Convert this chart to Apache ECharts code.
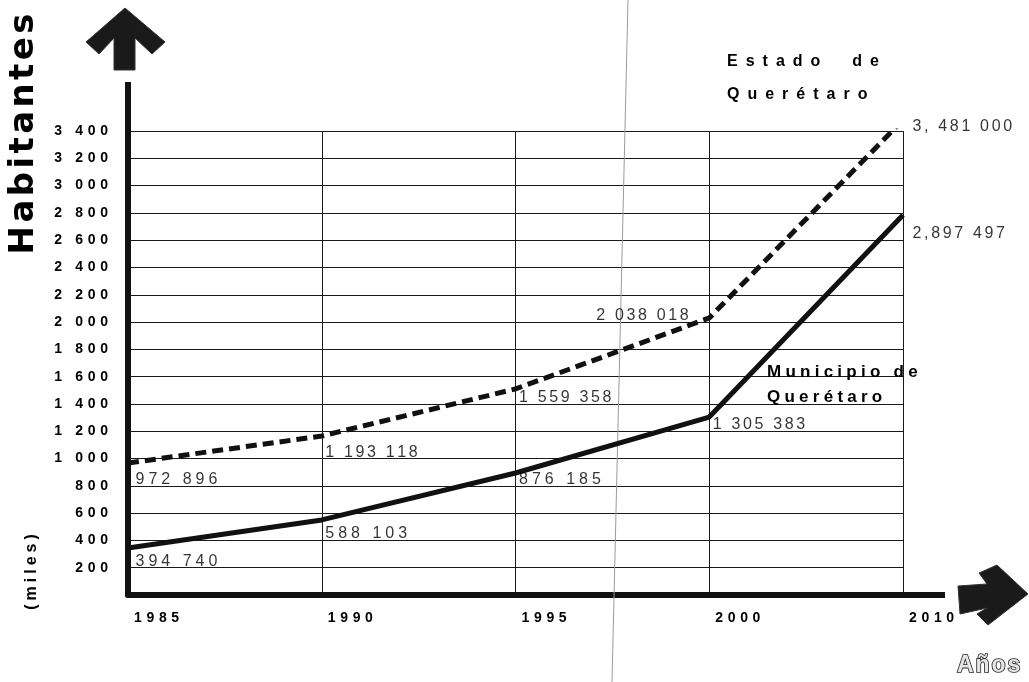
<!DOCTYPE html>
<html><head><meta charset="utf-8">
<script src="https://cdn.jsdelivr.net/npm/echarts@6/dist/echarts.min.js"></script>
<style>html,body{margin:0;padding:0;background:#fff}#c{width:1029px;height:682px}</style>
</head><body><div id="c"></div>
<script>
// ---- data (population, thousands) ----
const years = ['1985', '1990', '1995', '2000', '2010'];
const estado = [967, 1165, 1510, 2030, 3481];
const municipio = [344, 550, 894, 1304, 2785];
const estadoLabels = ['972 896', '1 193 118', '1 559 358', '2 038 018', '3, 481 000'];
const municipioLabels = ['394 740', '588 103', '876 185', '1 305 383', '2,897 497'];
const yMin = 0, yMax = 3400, yStep = 200;

// ---- helpers ----
function sp(s, gap) { return s.split('').join(gap); }
function fmtY(v) {
  if (v === 0) return '';
  const t = Math.floor(v / 1000), r = v % 1000;
  const s = t > 0 ? t + ' ' + String(r).padStart(3, '0') : String(r);
  return sp(s, '\u2004');
}
const FONT = '"Liberation Sans", Arial, sans-serif';
const INK = '#000';

// label placement (style, not data)
const eLab = [
  { position: 'right', distance: 7, offset: [0, 17] },
  { position: 'right', distance: 3, offset: [0, 17] },
  { position: 'right', distance: 3, offset: [0, 9] },
  { position: 'left', distance: 20, offset: [0, -2] },
  { position: 'right', distance: 9, offset: [0, 7] }
];
const mLab = [
  { position: 'right', distance: 7, offset: [0, 14] },
  { position: 'right', distance: 3, offset: [0, 14] },
  { position: 'right', distance: 3, offset: [0, 7] },
  { position: 'right', distance: 3, offset: [0, 8] },
  { position: 'right', distance: 9, offset: [0, 19] }
];
function labelData(vals, texts, place) {
  return vals.map((v, i) => ({
    value: v,
    label: Object.assign({
      show: true,
      formatter: sp(texts[i], texts[i].length > 8 ? '\u2006' : '\u2005'),
      color: INK, fontFamily: FONT, fontSize: 16
    }, place[i])
  }));
}

const chart = echarts.init(document.getElementById('c'), null, { renderer: 'canvas' });
const G = { left: 128, right: 126, top: 131, bottom: 87 };
const axisX = 1029 - G.right, axisY = 682 - G.bottom;

const option = {
  backgroundColor: '#fff',
  animation: false,
  grid: Object.assign({ containLabel: false }, G),
  xAxis: {
    type: 'category',
    data: years,
    boundaryGap: false,
    axisLine: { show: true, lineStyle: { color: '#111', width: 6 } },
    axisTick: { show: false },
    axisLabel: {
      interval: 0, align: 'left', margin: 16, padding: [0, 0, 0, 6],
      color: INK, fontFamily: FONT, fontSize: 14, fontWeight: 'bold',
      formatter: v => sp(v, '\u2004')
    },
    splitLine: { show: true, interval: 0, lineStyle: { color: '#1a1a1a', width: 1 } }
  },
  yAxis: {
    type: 'value',
    min: yMin, max: yMax, interval: yStep,
    axisLine: { show: true, lineStyle: { color: '#111', width: 6 } },
    axisTick: { show: false },
    axisLabel: {
      margin: 20, color: INK, fontFamily: FONT, fontSize: 14, fontWeight: 'bold',
      formatter: fmtY
    },
    splitLine: { show: true, lineStyle: { color: '#1a1a1a', width: 1 } }
  },
  series: [
    {
      name: 'Estado de Querétaro', type: 'line', data: estado,
      symbol: 'none', clip: true, z: 5,
      lineStyle: { color: '#111', width: 5, type: [11, 6], cap: 'butt' }
    },
    {
      name: 'Municipio de Querétaro', type: 'line', data: municipio,
      symbol: 'none', clip: true, z: 5,
      lineStyle: { color: '#111', width: 5 }
    },
    {
      type: 'scatter', data: labelData(estado, estadoLabels, eLab),
      symbolSize: 1, clip: false, itemStyle: { color: 'rgba(0,0,0,0)' }, z: 6, silent: true
    },
    {
      type: 'scatter', data: labelData(municipio, municipioLabels, mLab),
      symbolSize: 1, clip: false, itemStyle: { color: 'rgba(0,0,0,0)' }, z: 6, silent: true
    }
  ],
  graphic: [
    // axis extensions
    { type: 'line', shape: { x1: G.left, y1: 82, x2: G.left, y2: G.top }, style: { stroke: '#111', lineWidth: 6 }, z: 10 },
    { type: 'line', shape: { x1: axisX - 2, y1: axisY, x2: 945, y2: axisY }, style: { stroke: '#111', lineWidth: 6 }, z: 10 },
    // up arrow
    { type: 'polygon', shape: { points: [[125, 8], [165, 42], [152, 54], [135, 38], [135, 70], [114, 70], [114, 38], [99, 54], [86, 42]] },
      style: { fill: '#1a1a1a', stroke: '#333', lineWidth: 1 }, z: 10 },
    // right arrow
    { type: 'polygon', shape: { points: [[958, 586], [987, 584], [979, 573], [997, 565], [1028, 594], [988, 625], [977, 614], [987, 608], [960, 614]] },
      style: { fill: '#1a1a1a', stroke: '#333', lineWidth: 1 }, z: 10 },
    // scan fold line
    { type: 'line', shape: { x1: 628, y1: 0, x2: 612, y2: 682 }, style: { stroke: '#9a9a9a', lineWidth: 1 }, z: 1 },
    // axis titles
    { type: 'text', x: 24, y: 134, rotation: Math.PI / 2,
      style: { text: sp('Habitantes', '\u200A'), font: 'bold 34px "DejaVu Sans"', align: 'center', verticalAlign: 'middle', fill: INK }, z: 10 },
    { type: 'text', x: 32, y: 572, rotation: Math.PI / 2,
      style: { text: sp('(miles)', '\u2005'), font: 'bold 16px ' + FONT, align: 'center', verticalAlign: 'middle', fill: INK }, z: 10 },
    { type: 'text', x: 957, y: 666,
      style: { text: sp('Años', '\u200A'), font: 'bold 23px ' + FONT, align: 'left', verticalAlign: 'middle', fill: '#e6e6e6', stroke: '#222', lineWidth: 1.6 }, z: 10 },
    // series titles
    { type: 'text', x: 727, y: 62,
      style: { text: sp('Estado', '\u2002') + '\u2002\u2003\u2002' + sp('de', '\u2002'), font: 'bold 16px ' + FONT, align: 'left', verticalAlign: 'middle', fill: INK }, z: 10 },
    { type: 'text', x: 727, y: 95,
      style: { text: sp('Querétaro', '\u2002'), font: 'bold 16px ' + FONT, align: 'left', verticalAlign: 'middle', fill: INK }, z: 10 },
    { type: 'text', x: 767, y: 372,
      style: { text: sp('Municipio de', '\u2005'), font: 'bold 17px ' + FONT, align: 'left', verticalAlign: 'middle', fill: INK }, z: 10 },
    { type: 'text', x: 767, y: 397,
      style: { text: sp('Querétaro', '\u2005'), font: 'bold 17px ' + FONT, align: 'left', verticalAlign: 'middle', fill: INK }, z: 10 }
  ]
};
chart.setOption(option);
</script>
</body></html>
